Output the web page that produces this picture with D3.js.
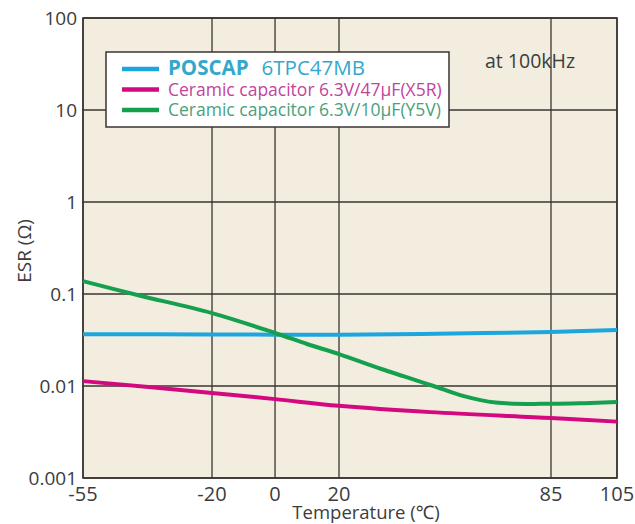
<!DOCTYPE html>
<html>
<head>
<meta charset="utf-8">
<script src="https://cdn.jsdelivr.net/npm/d3@7"></script>
<style>
  body { margin: 0; background: #fff; }
  text { font-family: "Open Sans", "Noto Sans", sans-serif; }
</style>
</head>
<body>
<script>
// ESR vs temperature data
var xTicks = [-55, -20, 0, 20, 85, 105];
var yTicks = [0.001, 0.01, 0.1, 1, 10, 100];
var yTickLabels = ["0.001", "0.01", "0.1", "1", "10", "100"];

var poscapTemp = [-55, -20, 0, 20, 50, 85, 105];
var poscapEsr = [0.0366, 0.0364, 0.0361, 0.0361, 0.0370, 0.0387, 0.0405];

var x5rTemp = [-55, -20, 0, 20, 48, 85, 105];
var x5rEsr = [0.0113, 0.0084, 0.0072, 0.0061, 0.0052, 0.0045, 0.0041];

var y5vTemp = [-55, -40, -20, 0, 10, 20, 33, 40, 49, 58, 68, 85, 95, 105];
var y5vEsr = [0.138, 0.097, 0.062, 0.0377, 0.0286, 0.0222, 0.0153, 0.0127, 0.0100, 0.0078, 0.0066, 0.0064, 0.0065, 0.0067];

var seriesNames = ["POSCAP", "Ceramic capacitor 6.3V/47\u03bcF(X5R)", "Ceramic capacitor 6.3V/10\u03bcF(Y5V)"];
var note = "at 100kHz";

var W = 635, H = 524;
var pLeft = 83, pRight = 617, pTop = 18, pBottom = 478;

var svg = d3.select("body").append("svg")
  .attr("width", W).attr("height", H);

// x axis is not evenly spaced in the original, so a piecewise scale over the tick values
var pw = pRight - pLeft;
var x = d3.scaleLinear()
  .domain(xTicks)
  .range([0, 0.2416, 0.3596, 0.4794, 0.8764, 1].map(f => pLeft + f * pw));

var y = d3.scaleLog()
  .domain([0.001, 100])
  .range([pBottom, pTop]);

// plot background
svg.append("rect")
  .attr("x", pLeft).attr("y", pTop)
  .attr("width", pw).attr("height", pBottom - pTop)
  .attr("fill", "#f3eddf");

// grid
svg.append("g").selectAll("line")
  .data(xTicks)
  .enter().append("line")
  .attr("x1", d => x(d)).attr("x2", d => x(d))
  .attr("y1", pTop).attr("y2", pBottom)
  .attr("stroke", "#3a3530").attr("stroke-width", 1.3);

svg.append("g").selectAll("line")
  .data(yTicks)
  .enter().append("line")
  .attr("x1", pLeft).attr("x2", pRight)
  .attr("y1", d => y(d)).attr("y2", d => y(d))
  .attr("stroke", "#3a3530").attr("stroke-width", 1.3);

svg.append("rect")
  .attr("x", pLeft).attr("y", pTop)
  .attr("width", pw).attr("height", pBottom - pTop)
  .attr("fill", "none").attr("stroke", "#3a3530").attr("stroke-width", 1.6);

// tick labels
svg.append("g").selectAll("text")
  .data(yTicks)
  .enter().append("text")
  .attr("x", pLeft - 6)
  .attr("y", d => y(d) + 7)
  .attr("text-anchor", "end")
  .attr("font-size", 19)
  .attr("fill", "#3c3c3c")
  .text((d, i) => yTickLabels[i]);

svg.append("g").selectAll("text")
  .data(xTicks)
  .enter().append("text")
  .attr("x", d => x(d))
  .attr("y", pBottom + 23)
  .attr("text-anchor", "middle")
  .attr("font-size", 20)
  .attr("fill", "#3c3c3c")
  .text(d => d);

// axis titles
svg.append("text")
  .attr("x", 366).attr("y", 519)
  .attr("text-anchor", "middle")
  .attr("font-size", 18.5)
  .attr("fill", "#3c3c3c")
  .text("Temperature (\u2103)");

svg.append("text")
  .attr("transform", "translate(31,251) rotate(-90)")
  .attr("text-anchor", "middle")
  .attr("font-size", 19)
  .attr("fill", "#3c3c3c")
  .text("ESR (\u03a9)");

// curves
var line = d3.line()
  .x(d => x(d[0]))
  .y(d => y(d[1]))
  .curve(d3.curveCatmullRom.alpha(0.5));

var series = [
  { t: poscapTemp, v: poscapEsr, color: "#1da6de" },
  { t: x5rTemp, v: x5rEsr, color: "#d4087f" },
  { t: y5vTemp, v: y5vEsr, color: "#15a050" }
];

svg.append("g").selectAll("path")
  .data(series)
  .enter().append("path")
  .attr("d", s => line(s.t.map((t, i) => [t, s.v[i]])))
  .attr("fill", "none")
  .attr("stroke", s => s.color)
  .attr("stroke-width", 4)
  .attr("stroke-linecap", "butt");

// legend
svg.append("rect")
  .attr("x", 106).attr("y", 52)
  .attr("width", 343).attr("height", 75)
  .attr("fill", "#fff")
  .attr("stroke", "#3a3530").attr("stroke-width", 1.5);

var leg = svg.append("g").selectAll("g")
  .data(series)
  .enter().append("g")
  .attr("transform", (d, i) => "translate(0," + (69 + i * 20.5) + ")");

leg.append("line")
  .attr("x1", 122).attr("x2", 159)
  .attr("stroke", d => d.color)
  .attr("stroke-width", 4.5);

var textColors = ["#33a8cc", "#c2449a", "#4a9f7d"];

leg.append("text")
  .attr("x", 168).attr("y", 6)
  .attr("font-size", 17.5)
  .attr("fill", (d, i) => textColors[i])
  .each(function(d, i) {
    var t = d3.select(this);
    if (i == 0) {
      t.append("tspan").attr("font-weight", "bold").attr("font-size", 20.5).text(seriesNames[0]);
      t.append("tspan").attr("dx", 13).attr("font-size", 20.5).text("6TPC47MB");
    } else {
      t.text(seriesNames[i]);
    }
  });

svg.append("text")
  .attr("x", 485).attr("y", 68)
  .attr("font-size", 19.5)
  .attr("fill", "#3c3c3c")
  .text(note);
</script>
</body>
</html>
